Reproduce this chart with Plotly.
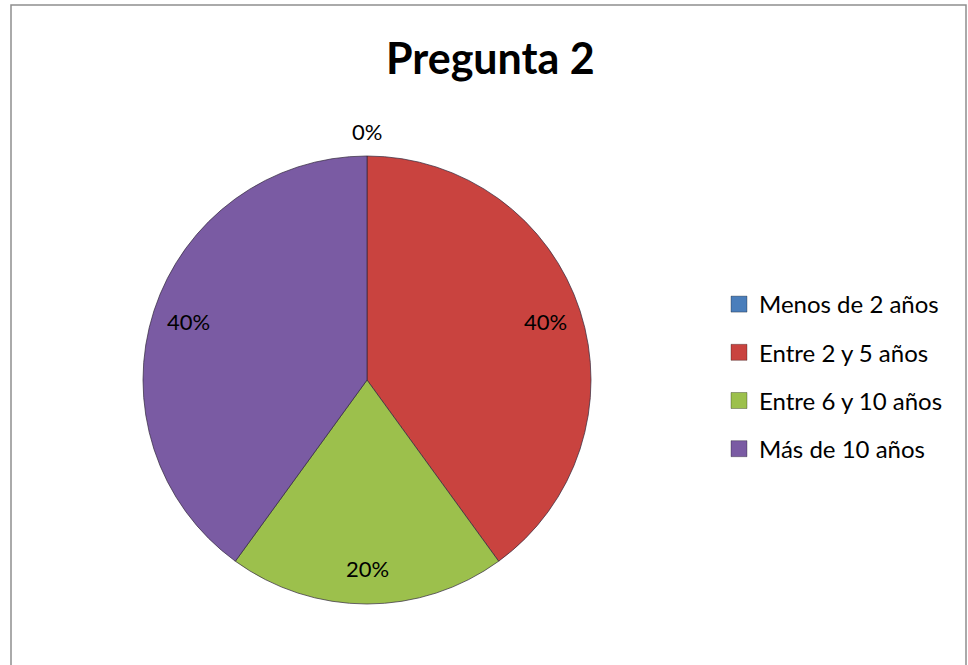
import math
import plotly.graph_objects as go

# ---- data ----
categories = ["Menos de 2 años", "Entre 2 y 5 años", "Entre 6 y 10 años", "Más de 10 años"]
values = [0, 40, 20, 40]
colors = ["#4A7EBB", "#C9433F", "#9CC04C", "#7A5BA3"]
title_text = "Pregunta 2"

W, H = 968, 665
CX, CY, R = 367, 380, 224  # pie centre / radius in px

font_family = "Lato, 'Open Sans', sans-serif"

fig = go.Figure()
fig.add_trace(go.Pie(
    labels=categories,
    values=values,
    marker=dict(colors=colors, line=dict(color="rgba(50,40,60,0.7)", width=1)),
    sort=False,
    direction="clockwise",
    rotation=0,
    textinfo="none",
    showlegend=False,
    domain=dict(x=[(CX - R) / W, (CX + R) / W], y=[(H - CY - R) / H, (H - CY + R) / H]),
    hoverinfo="label+percent",
))

# legend proxies (square markers, spaced entries)
for i, (name, col) in enumerate(zip(categories, colors)):
    fig.add_trace(go.Scatter(
        x=[None], y=[None], mode="markers", name=name,
        marker=dict(symbol="square", size=17, color=col, line=dict(color="rgba(0,0,0,0.3)", width=1)),
        legendgroup=f"g{i}", showlegend=True,
    ))

# percentage labels computed from the data
total = sum(values)
cum = 0
annotations = []
for v in values:
    mid = (cum + v / 2) / total * 2 * math.pi
    cum += v
    f = 1.11 if v == 0 else 0.84
    px = CX + R * f * math.sin(mid)
    py = CY - R * f * math.cos(mid)
    annotations.append(dict(
        x=px / W, y=1 - py / H, xref="paper", yref="paper",
        text=f"{round(v / total * 100)}%", showarrow=False,
        font=dict(family=font_family, size=22, color="#000000"),
        xanchor="center", yanchor="middle",
    ))

annotations.append(dict(
    x=490 / W, y=1 - 57 / H, xref="paper", yref="paper",
    text=f"<b>{title_text}</b>", showarrow=False,
    font=dict(family=font_family, size=43, color="#000000"),
    xanchor="center", yanchor="middle",
))

fig.update_layout(
    width=W, height=H,
    margin=dict(l=0, r=0, t=0, b=0),
    paper_bgcolor="white",
    plot_bgcolor="white",
    xaxis=dict(visible=False),
    yaxis=dict(visible=False),
    annotations=annotations,
    legend=dict(
        x=719 / W, y=1 - 282 / H, xanchor="left", yanchor="top",
        font=dict(family=font_family, size=24, color="#000000"),
        tracegroupgap=14, itemwidth=30, bgcolor="rgba(0,0,0,0)",
    ),
    shapes=[dict(
        type="rect", xref="paper", yref="paper",
        x0=11 / W, x1=966 / W, y0=-0.05, y1=1 - 5 / H,
        line=dict(color="#8E8E8E", width=1.5), fillcolor="rgba(0,0,0,0)",
    )],
)

fig.write_html("out.html", config={"displayModeBar": False},
               post_script="document.body.style.margin='0';")
